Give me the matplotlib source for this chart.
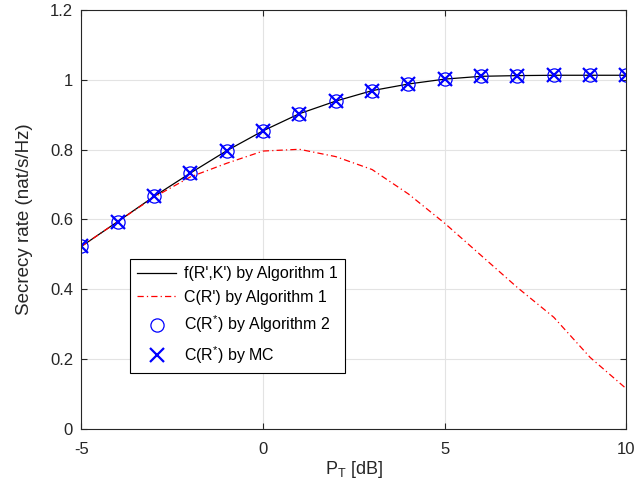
import numpy as np
import matplotlib
matplotlib.use("Agg")
import matplotlib.pyplot as plt

plt.rcParams['font.family'] = ['Liberation Sans', 'DejaVu Sans']
plt.rcParams['mathtext.fontset'] = 'custom'
plt.rcParams['mathtext.rm'] = 'Liberation Sans'
plt.rcParams['mathtext.it'] = 'Liberation Sans'

# data
pt_db = [-5, -4, -3, -2, -1, 0, 1, 2, 3, 4, 5, 6, 7, 8, 9, 10]
f_alg1 = [0.523, 0.594, 0.666, 0.733, 0.797, 0.854, 0.903, 0.939, 0.969,
          0.988, 1.002, 1.010, 1.012, 1.013, 1.013, 1.013]
c_alg1 = [0.523, 0.594, 0.664, 0.722, 0.761, 0.796, 0.801, 0.780, 0.743,
          0.673, 0.589, 0.497, 0.405, 0.320, 0.205, 0.115]
c_alg2 = f_alg1
c_mc = f_alg1

xticks = [-5, 0, 5, 10]
yticks = [0, 0.2, 0.4, 0.6, 0.8, 1.0, 1.2]
ytick_labels = ['0', '0.2', '0.4', '0.6', '0.8', '1', '1.2']

axcol = '#262626'

fig = plt.figure(figsize=(6.36, 4.93), dpi=100)
ax = fig.add_axes([0.128, 0.1298, 0.857, 0.850])

ax.plot(pt_db, f_alg1, color='black', lw=0.9, label="f(R',K') by Algorithm 1")
ax.plot(pt_db, c_alg1, color='red', lw=0.9, linestyle=(0, (5, 2.5, 1, 2.5)),
        label="C(R') by Algorithm 1")
ax.plot(pt_db, c_alg2, linestyle='none', marker='o', ms=9.5, mfc='none',
        mec='blue', mew=0.9, label=r"C(R$^{*}$) by Algorithm 2")
ax.plot(pt_db, c_mc, linestyle='none', marker='x', ms=9.5,
        mec='blue', mew=1.6, label=r"C(R$^{*}$) by MC")

ax.set_xlim(-5, 10)
ax.set_ylim(0, 1.2)
ax.set_xticks(xticks)
ax.set_xticklabels(['-5', '0', '5', '10'])
ax.set_yticks(yticks)
ax.set_yticklabels(ytick_labels)
ax.grid(True, color='#e3e3e3', lw=0.8)
ax.set_axisbelow(True)

ax.tick_params(direction='in', top=True, right=True, length=4, width=0.8,
               colors=axcol, labelsize=12)
ax.tick_params(axis='x', pad=9)
ax.tick_params(axis='y', pad=6)
for s in ax.spines.values():
    s.set_color(axcol)
    s.set_linewidth(0.8)

ax.set_xlabel(r"P$_\mathregular{T}$ [dB]", fontsize=13, color=axcol, labelpad=2)
ax.set_ylabel("Secrecy rate (nat/s/Hz)", fontsize=13.5, color=axcol, labelpad=12)

leg = ax.legend(loc='upper left', bbox_to_anchor=(130 / 636, 1 - 259 / 493),
                bbox_transform=fig.transFigure, borderaxespad=0,
                fontsize=11.5, fancybox=False, framealpha=1, edgecolor='black',
                handlelength=2.45, handletextpad=0.5, labelspacing=0.55,
                borderpad=0.45)
leg.get_frame().set_linewidth(0.8)

plt.savefig("out.png", dpi=100)
plt.close()
